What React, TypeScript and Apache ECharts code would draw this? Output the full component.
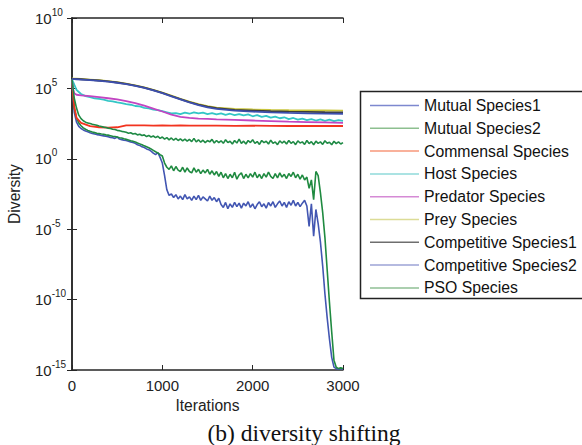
import React, { useEffect, useRef } from "react";
import * as echarts from "echarts";

// Iteration grids for the series (every 25 / 50 iterations, and a sparse one for smooth curves)
const iters25 = Array.from({ length: 121 }, (_, i) => i * 25);
const iters50 = Array.from({ length: 61 }, (_, i) => i * 50);
const itersSmooth = [0, 10, 25, 50, 100, 200, 300, 400, 500, 600, 700, 800, 900, 1000, 1100, 1200, 1300, 1400, 1500, 1600, 1800, 2000, 2200, 2400, 2600, 2800, 3000];

// Diversity values stored as log10 exponents
const mutual1Exp = [
  5.6, 3.3, 2.6, 2.3, 2.15, 2.05, 1.98, 1.92, 1.85, 1.8, 1.76, 1.72, 1.7, 1.66, 1.63, 1.6, 1.56, 1.52, 1.5, 1.45,
  1.55, 1.4, 1.36, 1.32, 1.3, 1.25, 1.2, 1.15, 1.1, 1.0, 0.95, 0.85, 0.8, 0.7, 0.65, 0.55, 0.4, 0.3, 0.45, 0.1,
  -0.3, -1.2, -2.2, -2.6, -2.5, -2.75, -2.55, -2.85, -2.65, -2.9, -2.55, -2.85, -2.7, -2.95, -2.65, -2.9, -2.6, -2.95, -2.7, -2.85,
  -3.0, -2.65, -2.95, -2.75, -3.05, -2.8, -3.25, -3.45, -3.1, -3.55, -3.2, -3.45, -3.1, -3.4, -3.15, -3.5, -3.15, -3.35, -3.05, -3.45,
  -3.2, -3.55, -3.25, -3.05, -3.4, -3.2, -3.5, -3.1, -3.35, -3.05, -3.45, -3.2, -3.0, -3.35, -3.1, -3.45, -3.05, -3.3, -2.95, -3.35,
  -3.1, -3.4, -3.15, -2.95, -3.35, -4.8, -3.2, -5.5, -3.6, -4.6, -5.9, -7.6, -9.6, -11.3, -12.8, -14.1, -14.8, -14.9, -14.95, -14.9,
  -14.95,
];

const mutual2Exp = [
  5.6, 3.6, 2.9, 2.55, 2.35, 2.2, 2.1, 2.02, 1.95, 1.9, 1.86, 1.82, 1.8, 1.76, 1.74, 1.7, 1.68, 1.64, 1.6, 1.58,
  1.55, 1.5, 1.48, 1.42, 1.38, 1.33, 1.28, 1.24, 1.2, 1.12, 1.06, 1.0, 0.92, 0.85, 0.78, 0.7, 0.6, 0.5, 0.42, 0.3,
  0.2, -0.3, -0.6, -0.75, -0.5, -0.85, -0.55, -0.8, -0.9, -0.6, -0.95, -0.65, -0.9, -1.0, -0.65, -0.95, -0.75, -1.05, -0.8, -1.0,
  -0.75, -1.1, -0.85, -1.15, -0.9, -1.25, -0.95, -1.35, -1.05, -1.4, -1.1, -1.35, -0.95, -1.45, -1.15, -1.0, -1.4, -1.1, -1.35, -1.05,
  -1.3, -0.95, -1.35, -1.1, -1.4, -1.05, -1.3, -0.95, -1.25, -1.4, -1.05, -1.35, -1.0, -1.3, -1.1, -1.4, -1.05, -1.25, -0.95, -1.35,
  -1.1, -1.45, -1.15, -1.5, -1.3, -2.1, -1.5, -2.9, -0.9, -1.2, -2.4, -3.8, -5.6, -7.9, -10.2, -12.3, -14.3, -14.8, -14.9, -14.85,
  -14.9,
];

const psoExp = [
  5.6, 4.3, 3.6, 3.1, 2.85, 2.7, 2.6, 2.55, 2.5, 2.45, 2.42, 2.38, 2.33, 2.3, 2.25, 2.22, 2.18, 2.15, 2.1, 2.08,
  2.02, 2.0, 1.95, 1.92, 1.88, 1.82, 1.85, 1.76, 1.8, 1.7, 1.74, 1.65, 1.7, 1.58, 1.66, 1.55, 1.62, 1.5, 1.6, 1.45,
  1.55, 1.4, 1.5, 1.35, 1.48, 1.32, 1.45, 1.3, 1.42, 1.28, 1.4, 1.25, 1.38, 1.22, 1.45, 1.2, 1.35, 1.18, 1.32, 1.15,
  1.3, 1.2, 1.38, 1.12, 1.3, 1.15, 1.28, 1.1, 1.35, 1.15, 1.25, 1.05, 1.3, 1.12, 1.4, 1.1, 1.25, 1.05, 1.3, 1.15,
  1.35, 1.1, 1.22, 1.02, 1.3, 1.15, 1.25, 1.05, 1.32, 1.1, 1.2, 1.0, 1.28, 1.12, 1.25, 1.05, 1.3, 1.1, 1.22, 1.0,
  1.28, 1.12, 1.2, 1.02, 1.3, 1.08, 1.22, 1.0, 1.25, 1.1, 1.2, 1.02, 1.28, 1.1, 1.18, 1.0, 1.25, 1.08, 1.2, 1.05,
  1.15,
];

const hostExp = [
  5.65, 4.9, 4.6, 4.45, 4.38, 4.3, 4.25, 4.2, 4.12, 4.08, 4.0, 3.95, 3.88, 3.84, 3.75, 3.72, 3.62, 3.58, 3.5, 3.45,
  3.38, 3.3, 3.22, 3.25, 3.18, 3.28, 3.2, 3.3, 3.22, 3.28, 3.18, 3.25, 3.15, 3.22, 3.12, 3.2, 3.1, 3.18, 3.08, 3.15,
  3.02, 3.1, 2.98, 3.05, 2.92, 3.0, 2.88, 2.95, 2.82, 2.9, 2.78, 2.85, 2.75, 2.82, 2.72, 2.8, 2.7, 2.78, 2.68, 2.75,
  2.7,
];

const preyExp = [5.72, 5.71, 5.7, 5.69, 5.67, 5.63, 5.58, 5.52, 5.44, 5.34, 5.22, 5.07, 4.9, 4.7, 4.48, 4.26, 4.06, 3.88, 3.74, 3.64, 3.54, 3.5, 3.47, 3.45, 3.44, 3.43, 3.42];
const competitive1Exp = [5.7, 5.69, 5.68, 5.67, 5.65, 5.61, 5.56, 5.5, 5.42, 5.32, 5.2, 5.05, 4.88, 4.68, 4.46, 4.24, 4.03, 3.85, 3.7, 3.6, 3.48, 3.42, 3.38, 3.35, 3.33, 3.31, 3.3];
const competitive2Exp = [5.68, 5.67, 5.66, 5.65, 5.63, 5.59, 5.54, 5.48, 5.4, 5.3, 5.18, 5.03, 4.86, 4.66, 4.44, 4.22, 4.0, 3.82, 3.66, 3.55, 3.42, 3.35, 3.3, 3.26, 3.23, 3.21, 3.2];
const predatorExp = [5.6, 5.0, 4.65, 4.55, 4.5, 4.45, 4.38, 4.3, 4.22, 4.1, 3.96, 3.78, 3.57, 3.36, 3.14, 2.98, 2.9, 2.86, 2.83, 2.8, 2.76, 2.72, 2.68, 2.64, 2.61, 2.58, 2.55];
const commensalExp = [5.6, 4.7, 3.7, 2.9, 2.55, 2.32, 2.24, 2.22, 2.24, 2.38, 2.37, 2.38, 2.36, 2.37, 2.36, 2.37, 2.35, 2.36, 2.35, 2.36, 2.34, 2.35, 2.34, 2.33, 2.34, 2.33, 2.33];

const seriesNames = [
  "Mutual Species1",
  "Mutual Species2",
  "Commensal Species",
  "Host Species",
  "Predator Species",
  "Prey Species",
  "Competitive Species1",
  "Competitive Species2",
  "PSO Species",
];
const lineColors = ["#4256b2", "#1f8a40", "#f2331f", "#33c6c6", "#c245c2", "#c9c53c", "#3a3a3a", "#3d4fae", "#1f8a45"];
const legendColors = ["#7d88cf", "#8dbf8f", "#f7977a", "#8fdada", "#d58ad5", "#dcdc96", "#6e6e6e", "#9ca3d6", "#8fbf95"];

const xTicks = { min: 0, max: 3000, interval: 1000 };
const yExpRange = { min: -15, max: 10, interval: 5 };

const FONT = "'Liberation Sans', Arial, sans-serif";

const toPoints = (iters: number[], exps: number[]) => iters.map((it, i) => [it, Math.pow(10, exps[i])]);

export default function App() {
  const ref = useRef<HTMLDivElement>(null);

  useEffect(() => {
    if (!ref.current) return;
    const chart = echarts.init(ref.current, undefined, { renderer: "svg" });

    const seriesData = [
      toPoints(iters25, mutual1Exp),
      toPoints(iters25, mutual2Exp),
      toPoints(itersSmooth, commensalExp),
      toPoints(iters50, hostExp),
      toPoints(itersSmooth, predatorExp),
      toPoints(itersSmooth, preyExp),
      toPoints(itersSmooth, competitive1Exp),
      toPoints(itersSmooth, competitive2Exp),
      toPoints(iters25, psoExp),
    ];

    const frameAxis = {
      axisLine: { show: true, lineStyle: { color: "#262626", width: 1.5 } },
      axisTick: { show: true, inside: true, length: 5, lineStyle: { color: "#262626", width: 1 } },
      splitLine: { show: false },
    };

    const yLog = {
      type: "log" as const,
      logBase: 10,
      min: Math.pow(10, yExpRange.min),
      max: Math.pow(10, yExpRange.max),
      interval: yExpRange.interval,
    };

    chart.setOption({
      animation: false,
      backgroundColor: "#ffffff",
      grid: { left: 72, top: 18, width: 271, height: 352, containLabel: false },
      xAxis: [
        {
          type: "value",
          ...xTicks,
          position: "bottom",
          ...frameAxis,
          axisLabel: { fontSize: 15, fontFamily: FONT, color: "#222", margin: 8, formatter: (v: number) => String(v) },
          name: "Iterations",
          nameLocation: "middle",
          nameGap: 26,
          nameTextStyle: { fontSize: 15.6, fontFamily: FONT, color: "#222" },
        },
        {
          type: "value",
          ...xTicks,
          position: "top",
          ...frameAxis,
          axisLabel: { show: false },
        },
      ],
      yAxis: [
        {
          ...yLog,
          position: "left",
          ...frameAxis,
          axisLabel: {
            align: "left",
            margin: 37,
            formatter: (v: number) => `{b|10}{s|${Math.round(Math.log10(v))}}`,
            rich: {
              b: { fontSize: 15, fontFamily: FONT, color: "#222" },
              s: { fontSize: 10, fontFamily: FONT, color: "#222", padding: [0, 0, 12, 0] },
            },
          },
          name: "Diversity",
          nameLocation: "middle",
          nameGap: 50,
          nameTextStyle: { fontSize: 15.6, fontFamily: FONT, color: "#222" },
        },
        {
          ...yLog,
          position: "right",
          ...frameAxis,
          axisLabel: { show: false },
        },
      ],
      legend: {
        orient: "vertical",
        left: 370,
        top: 97.5,
        padding: 0,
        icon: "rect",
        itemWidth: 49,
        itemHeight: 1.5,
        itemGap: 6.8,
        z: 10,
        textStyle: { fontSize: 15.8, lineHeight: 15, fontFamily: FONT, color: "#111" },
        data: seriesNames.map((n, i) => ({
          name: n,
          itemStyle: { color: legendColors[i], borderWidth: 0 },
        })),
      },
      graphic: [
        {
          type: "rect",
          z: 1,
          shape: { x: 360.5, y: 91.5, width: 240, height: 207 },
          style: { fill: "#ffffff", stroke: "#222", lineWidth: 1.5 },
        },
        {
          type: "text",
          z: 1,
          x: 304,
          y: 433,
          style: {
            text: "(b) diversity shifting",
            align: "center",
            verticalAlign: "middle",
            fontSize: 23.5,
            fontFamily: "'Liberation Serif', 'Times New Roman', serif",
            fill: "#111",
          },
        },
      ],
      series: seriesNames.map((n, i) => ({
        name: n,
        type: "line",
        xAxisIndex: 0,
        yAxisIndex: 0,
        data: seriesData[i],
        symbol: "none",
        showSymbol: false,
        clip: true,
        lineStyle: { color: lineColors[i], width: i === 0 || i === 1 || i === 8 ? 1.6 : 1.8 },
        itemStyle: { color: lineColors[i] },
        emphasis: { disabled: true },
      })),
    });

    return () => chart.dispose();
  }, []);

  return <div ref={ref} style={{ width: 582, height: 445, position: "absolute", left: 0, top: 0 }} />;
}
